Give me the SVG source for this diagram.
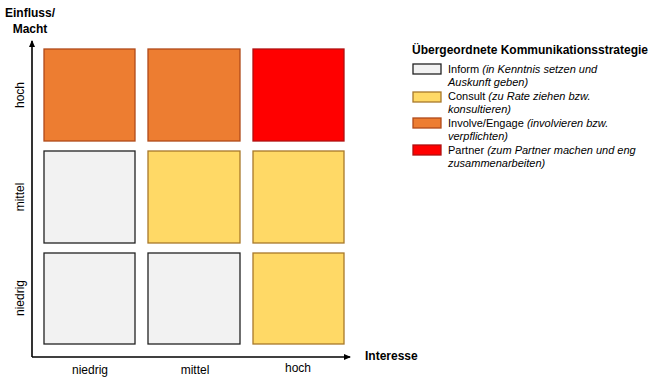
<svg xmlns="http://www.w3.org/2000/svg" width="650" height="382" viewBox="0 0 650 382">
<defs>
<marker id="ah" markerWidth="8" markerHeight="8" refX="6" refY="3" orient="auto" markerUnits="userSpaceOnUse">
<path d="M0,0 L7,3 L0,6 Z" fill="#000"/>
</marker>
<style>
text{font-family:"Liberation Sans",Arial,sans-serif;fill:#000}
.b{font-weight:bold;font-size:12px}
.ax{font-size:12px}
.lg{font-size:11px}
.i{font-style:italic}
.gray{fill:#F2F2F2;stroke:#222;stroke-width:1.3}
.yel{fill:#FFD966;stroke:#A8782A;stroke-width:1.3}
.ora{fill:#ED7D31;stroke:#B04A1A;stroke-width:1.3}
.red{fill:#FF0000;stroke:#B01010;stroke-width:1.3}
</style>
</defs>
<rect width="650" height="382" fill="#fff"/>
<g id="connectors">
<line x1="32" y1="357" x2="32" y2="41" stroke="#000" stroke-width="1.6" marker-end="url(#ah)"/>
<line x1="32" y1="357" x2="350" y2="357" stroke="#000" stroke-width="1.6" marker-end="url(#ah)"/>
</g>
<g id="axis-labels">
<text class="b" x="30" y="17" text-anchor="middle">Einfluss/</text>
<text class="b" x="30" y="33" text-anchor="middle">Macht</text>
<text class="b" x="365" y="360">Interesse</text>
<text class="ax" transform="translate(24,95) rotate(-90)" text-anchor="middle">hoch</text>
<text class="ax" transform="translate(24,197) rotate(-90)" text-anchor="middle">mittel</text>
<text class="ax" transform="translate(24,298) rotate(-90)" text-anchor="middle">niedrig</text>
<text class="ax" x="90" y="374" text-anchor="middle">niedrig</text>
<text class="ax" x="195" y="374" text-anchor="middle">mittel</text>
<text class="ax" x="298" y="372" text-anchor="middle">hoch</text>
</g>
<g id="cell-hoch-niedrig"><rect class="ora" x="44" y="49" width="91" height="92"/></g>
<g id="cell-hoch-mittel"><rect class="ora" x="148" y="49" width="92" height="92"/></g>
<g id="cell-hoch-hoch"><rect class="red" x="253" y="49" width="91" height="92"/></g>
<g id="cell-mittel-niedrig"><rect class="gray" x="44" y="151" width="91" height="92"/></g>
<g id="cell-mittel-mittel"><rect class="yel" x="148" y="151" width="92" height="92"/></g>
<g id="cell-mittel-hoch"><rect class="yel" x="253" y="151" width="91" height="92"/></g>
<g id="cell-niedrig-niedrig"><rect class="gray" x="44" y="253" width="91" height="91"/></g>
<g id="cell-niedrig-mittel"><rect class="gray" x="148" y="253" width="92" height="91"/></g>
<g id="cell-niedrig-hoch"><rect class="yel" x="253" y="253" width="91" height="91"/></g>
<g id="legend">
<text class="b" x="412" y="54">Übergeordnete Kommunikationsstrategie</text>
<rect class="gray" x="413" y="64" width="28" height="10"/>
<text class="lg" x="448" y="73">Inform <tspan class="i">(in Kenntnis setzen und</tspan></text>
<text class="lg i" x="448" y="86">Auskunft geben)</text>
<rect class="yel" x="413" y="92" width="28" height="10"/>
<text class="lg" x="448" y="100">Consult <tspan class="i">(zu Rate ziehen bzw.</tspan></text>
<text class="lg i" x="448" y="113">konsultieren)</text>
<rect class="ora" x="413" y="118" width="28" height="10"/>
<text class="lg" x="448" y="127">Involve/Engage <tspan class="i">(involvieren bzw.</tspan></text>
<text class="lg i" x="448" y="140">verpflichten)</text>
<rect class="red" x="413" y="145" width="28" height="10"/>
<text class="lg" x="448" y="154">Partner <tspan class="i">(zum Partner machen und eng</tspan></text>
<text class="lg i" x="448" y="167">zusammenarbeiten)</text>
</g>
</svg>
